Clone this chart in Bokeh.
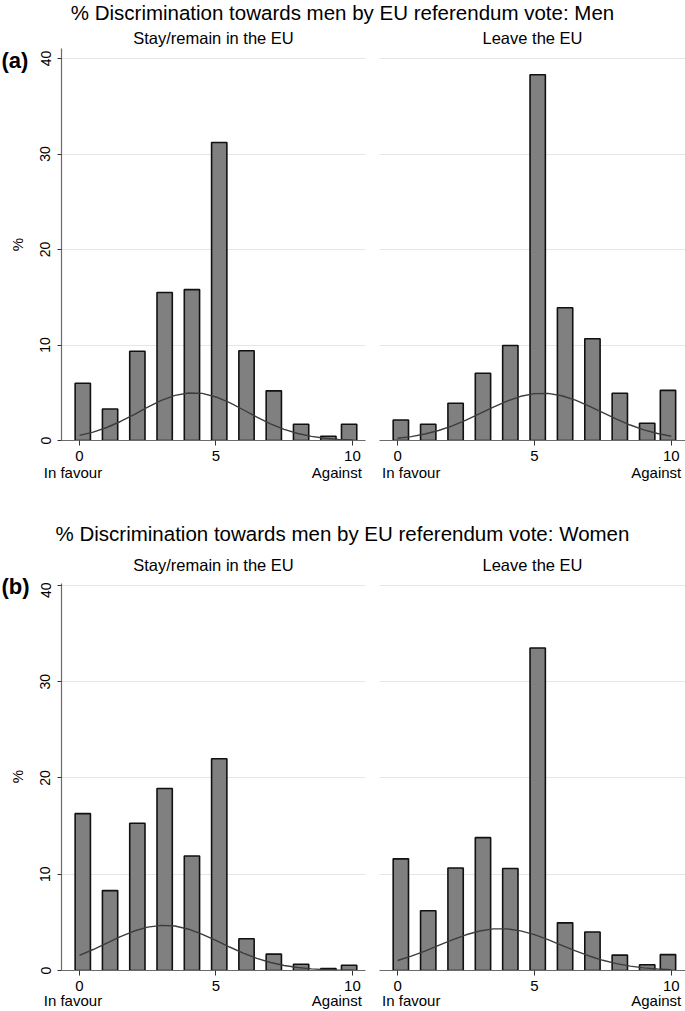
import math
from bokeh.plotting import figure
from bokeh.layouts import column, row
from bokeh.models import FixedTicker, Label, Range1d, LinearAxis
from bokeh.embed import file_html
from bokeh.resources import INLINE

# ---------------- data ----------------
scores = list(range(11))
x_ticks = [0, 5, 10]
y_ticks = [0, 10, 20, 30, 40]
grid_ticks = [10, 20, 30, 40]

row_titles = ["% Discrimination towards men by EU referendum vote: Men",
              "% Discrimination towards men by EU referendum vote: Women"]
panel_titles = ["Stay/remain in the EU", "Leave the EU"]
row_tags = ["(a)", "(b)"]
low_label = "In favour"
high_label = "Against"
y_label = "%"

men_remain = [6.0, 3.3, 9.35, 15.5, 15.8, 31.2, 9.4, 5.2, 1.7, 0.45, 1.7]
men_leave = [2.15, 1.7, 3.9, 7.05, 9.95, 38.3, 13.9, 10.65, 4.95, 1.8, 5.25]
women_remain = [16.3, 8.3, 15.3, 18.9, 11.9, 22.0, 3.3, 1.7, 0.65, 0.2, 0.55]
women_leave = [11.6, 6.2, 10.65, 13.8, 10.6, 33.5, 4.95, 4.0, 1.6, 0.6, 1.65]

curve_x = [0, 0.5, 1, 1.5, 2, 2.5, 3, 3.5, 4, 4.5, 5,
           5.5, 6, 6.5, 7, 7.5, 8, 8.5, 9, 9.5, 10]
men_remain_curve = [0.53, 0.87, 1.36, 1.99, 2.72, 3.49, 4.20, 4.72, 4.98, 4.93, 4.56,
                    3.96, 3.22, 2.45, 1.75, 1.17, 0.73, 0.43, 0.24, 0.12, 0.06]
men_leave_curve = [0.24, 0.41, 0.68, 1.05, 1.54, 2.13, 2.81, 3.50, 4.13, 4.63, 4.91,
                   4.93, 4.69, 4.22, 3.61, 2.92, 2.24, 1.62, 1.12, 0.73, 0.45]
women_remain_curve = [1.58, 2.18, 2.85, 3.51, 4.10, 4.51, 4.69, 4.62, 4.29, 3.76, 3.12,
                      2.44, 1.81, 1.26, 0.83, 0.52, 0.31, 0.17, 0.09, 0.04, 0.02]
women_leave_curve = [1.04, 1.49, 2.01, 2.60, 3.18, 3.71, 4.10, 4.32, 4.32, 4.12, 3.72,
                     3.20, 2.62, 2.04, 1.51, 1.06, 0.71, 0.45, 0.27, 0.16, 0.09]

# ---------------- style ----------------
FONT = "Liberation Sans"
BAR_FILL = "#808080"
BAR_LINE = "#111111"
CURVE = "#3c3c3c"
AXIS = "#6a6a6a"
GRID = "#e6e6e6"
X_START = -0.66
BAR_W = 0.56
TAG_W = 31
MAIN_W = 654

# histogram bars sit slightly right of each score; the last bin is clipped at 10
centers = [min(s + 0.12, 9.88) for s in scores]


def blank(width, height):
    f = figure(width=width, height=height, x_range=Range1d(0, width), y_range=Range1d(0, height),
               output_backend="svg", toolbar_location=None, x_axis_location=None,
               y_axis_location=None, min_border=0, outline_line_color=None)
    f.grid.visible = False
    return f


def txt(fig, x, y, text, size, align="center", bold=False, angle=0.0):
    fig.add_layout(Label(x=x, y=y, text=text, text_align=align, text_baseline="middle",
                         text_font=FONT, text_font_size=size, angle=angle,
                         text_font_style="bold" if bold else "normal", text_color="black"))


def make_header(title, height, title_from_top, sub_from_top):
    t = blank(MAIN_W, height)
    txt(t, 311, height - title_from_top, title, "20.5px")
    txt(t, 182, height - sub_from_top, panel_titles[0], "16.5px")
    txt(t, 501, height - sub_from_top, panel_titles[1], "16.5px")
    return t


def make_panel(values, curve, left, height, bottom_border, y_end, x_end, tick_standoff,
               label_standoff, label_pos):
    width = 341 if left else 313
    p = figure(width=width, height=height,
               x_range=Range1d(X_START, x_end), y_range=Range1d(0, y_end),
               output_backend="svg", toolbar_location=None,
               y_axis_location="left" if left else None,
               min_border_left=30 if left else 7, min_border_right=7 if left else 0,
               min_border_top=1, min_border_bottom=bottom_border,
               outline_line_color=None, background_fill_color="white",
               border_fill_color="white")
    p.xgrid.visible = False
    p.ygrid.ticker = FixedTicker(ticks=grid_ticks)
    p.ygrid.grid_line_color = GRID
    p.ygrid.grid_line_width = 1

    p.vbar(x=centers, top=values, bottom=0, width=BAR_W, fill_color=BAR_FILL,
           line_color=BAR_LINE, line_width=1.6)
    p.line(curve_x, curve, line_color=CURVE, line_width=1.4)

    xa = p.xaxis[0]
    xa.ticker = FixedTicker(ticks=x_ticks)
    xa.axis_line_color = AXIS
    xa.axis_line_width = 1.2
    xa.major_tick_line_color = "#333333"
    xa.major_tick_out = 5
    xa.major_tick_in = 0
    xa.minor_tick_line_color = None
    xa.major_label_standoff = tick_standoff
    xa.major_label_text_font = FONT
    xa.major_label_text_font_size = "15px"
    xa.major_label_text_color = "black"

    # second row of x labels: "In favour" / "Against"
    lo, hi = label_pos
    xb = LinearAxis(ticker=FixedTicker(ticks=[lo, hi]),
                    major_label_overrides={lo: low_label, hi: high_label},
                    axis_line_color=None, major_tick_line_color=None,
                    minor_tick_line_color=None, major_tick_out=0, major_tick_in=0,
                    minor_tick_out=0, major_label_standoff=label_standoff,
                    major_label_text_font=FONT, major_label_text_font_size="15px",
                    major_label_text_color="black")
    p.add_layout(xb, "below")

    if left:
        ya = p.yaxis[0]
        ya.ticker = FixedTicker(ticks=y_ticks)
        ya.axis_line_color = AXIS
        ya.axis_line_width = 1.2
        ya.major_tick_line_color = "#333333"
        ya.major_tick_out = 4
        ya.major_tick_in = 0
        ya.minor_tick_line_color = None
        ya.major_label_orientation = "vertical"
        ya.major_label_standoff = 7
        ya.major_label_text_font = FONT
        ya.major_label_text_font_size = "14px"
        ya.major_label_text_color = "black"
    return p


# left strip with panel tags and the y-axis title
tags = blank(TAG_W, 1011)
txt(tags, 1, 1011 - 60, row_tags[0], "22px", align="left", bold=True)
txt(tags, 1, 1011 - 586, row_tags[1], "22px", align="left", bold=True)
txt(tags, 17, 1011 - 244, y_label, "15px", angle=math.pi / 2)
txt(tags, 17, 1011 - 776, y_label, "15px", angle=math.pi / 2)

h1 = make_header(row_titles[0], 47, 12, 37)
a_left = make_panel(men_remain, men_remain_curve, True, 453, 60, 41.05, 10.48, 5, 0,
                    (-0.24, 9.43))
a_right = make_panel(men_leave, men_leave_curve, False, 453, 60, 41.05, 10.52, 5, 0,
                     (0.50, 9.45))
h2 = make_header(row_titles[1], 82, 33, 64)
b_left = make_panel(women_remain, women_remain_curve, True, 429, 41, 40.2, 10.48, 5, -2,
                    (-0.24, 9.43))
b_right = make_panel(women_leave, women_leave_curve, False, 429, 41, 40.2, 10.52, 5, -2,
                     (0.50, 9.45))

main = column(h1, row(a_left, a_right), h2, row(b_left, b_right))
layout = row(tags, main)

open("out.html", "w").write(file_html(layout, INLINE))
